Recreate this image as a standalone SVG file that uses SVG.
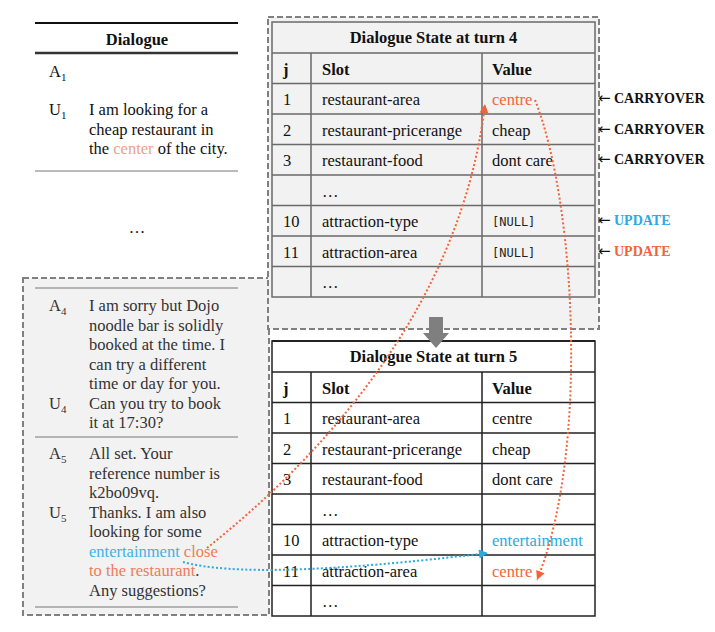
<svg xmlns="http://www.w3.org/2000/svg" width="715" height="632" viewBox="0 0 715 632">
<style>
text{font-family:"Liberation Serif","Times New Roman",serif;font-size:16.5px;fill:#111}
.b{font-weight:bold}
.g{fill:#333}
.sub{font-size:11px}
.mono{font-family:"DejaVu Sans Mono","Liberation Mono",monospace;font-size:12px;fill:#222}
.dash{fill:#f2f2f2;stroke:#808080;stroke-width:2;stroke-dasharray:6 3}
.t4{stroke:#6a6a6a;stroke-width:1.5;fill:none}
.t5{stroke:#222;stroke-width:1.5;fill:none}
.lbl{font-size:14px;font-weight:bold}
.arr{font-family:"DejaVu Sans",sans-serif;font-size:15px;font-weight:normal;fill:#111}
.or{fill:#f0643c}
.bl{fill:#29aae1}
.dot{fill:none;stroke-width:2;stroke-dasharray:2 2.2}
</style>
<defs>
<marker id="mo" viewBox="0 0 10 10" refX="10" refY="5" markerWidth="10" markerHeight="9" markerUnits="userSpaceOnUse" orient="auto"><path d="M0,0 L10,5 L0,10 z" fill="#f0643c"/></marker>
<marker id="mb" viewBox="0 0 10 10" refX="10" refY="5" markerWidth="10" markerHeight="9" markerUnits="userSpaceOnUse" orient="auto"><path d="M0,0 L10,5 L0,10 z" fill="#29aae1"/></marker>
</defs>
<rect width="715" height="632" fill="#fff"/>

<g id="dialogue-top">
<line x1="35" y1="23" x2="238" y2="23" stroke="#111" stroke-width="2"/>
<text x="137" y="45" text-anchor="middle" class="b">Dialogue</text>
<line x1="35" y1="53" x2="238" y2="53" stroke="#333" stroke-width="2.5"/>
<text x="49" y="77">A<tspan class="sub" dy="4">1</tspan></text>
<text x="49" y="115">U<tspan class="sub" dy="4">1</tspan></text>
<text x="89" y="115">I am looking for a</text>
<text x="89" y="134.5">cheap restaurant in</text>
<text x="89" y="154">the <tspan fill="#f0a08c">center</tspan> of the city.</text>
<line x1="35" y1="171" x2="238" y2="171" stroke="#777" stroke-width="1.2"/>
<text x="137" y="233" text-anchor="middle">…</text>
</g>

<g id="dialogue-box">
<rect class="dash" x="23" y="278" width="246" height="337"/>
<line x1="35" y1="288" x2="238" y2="288" stroke="#777" stroke-width="1.2"/>
<text class="g" x="49" y="311">A<tspan class="sub" dy="4">4</tspan></text>
<text class="g" x="89" y="311">I am sorry but Dojo</text>
<text class="g" x="89" y="330.5">noodle bar is solidly</text>
<text class="g" x="89" y="350">booked at the time. I</text>
<text class="g" x="89" y="369.5">can try a different</text>
<text class="g" x="89" y="389">time or day for you.</text>
<text class="g" x="49" y="408.5">U<tspan class="sub" dy="4">4</tspan></text>
<text class="g" x="89" y="408.5">Can you try to book</text>
<text class="g" x="89" y="428">it at 17:30?</text>
<line x1="35" y1="437" x2="238" y2="437" stroke="#777" stroke-width="1.2"/>
<text class="g" x="49" y="459">A<tspan class="sub" dy="4">5</tspan></text>
<text class="g" x="89" y="459">All set. Your</text>
<text class="g" x="89" y="478.5">reference number is</text>
<text class="g" x="89" y="498">k2bo09vq.</text>
<text class="g" x="49" y="517.5">U<tspan class="sub" dy="4">5</tspan></text>
<text class="g" x="89" y="517.5">Thanks. I am also</text>
<text class="g" x="89" y="537">looking for some</text>
<text class="g" x="89" y="556.5"><tspan fill="#3fb4e2">entertainment</tspan> <tspan fill="#f07a5a">close</tspan></text>
<text class="g" x="89" y="576"><tspan fill="#f07a5a">to the restaurant</tspan>.</text>
<text class="g" x="89" y="595.5">Any suggestions?</text>
<line x1="35" y1="607" x2="238" y2="607" stroke="#777" stroke-width="1.2"/>
</g>

<g id="state-turn4">
<rect class="dash" x="268" y="17" width="331" height="312"/>
<rect class="t4" x="272" y="22" width="323" height="275"/>
<path class="t4" d="M272,53H595M272,83.5H595M272,114H595M272,144.5H595M272,175H595M272,205.5H595M272,236H595M272,266.5H595M311,53V297M482,53V297"/>
<text x="433.5" y="43" text-anchor="middle" class="b">Dialogue State at turn 4</text>
<text x="283" y="74.5" class="b">j</text>
<text x="322" y="74.5" class="b">Slot</text>
<text x="492" y="74.5" class="b">Value</text>
<text x="283" y="105">1</text><text x="322" y="105">restaurant-area</text><text x="492" y="105" class="or">centre</text>
<text x="283" y="135.5">2</text><text x="322" y="135.5">restaurant-pricerange</text><text x="492" y="135.5">cheap</text>
<text x="283" y="166">3</text><text x="322" y="166">restaurant-food</text><text x="492" y="166">dont care</text>
<text x="322" y="196.5">…</text>
<text x="283" y="227">10</text><text x="322" y="227">attraction-type</text><text x="492" y="226" class="mono">[NULL]</text>
<text x="283" y="257.5">11</text><text x="322" y="257.5">attraction-area</text><text x="492" y="256.5" class="mono">[NULL]</text>
<text x="322" y="288">…</text>
</g>

<g id="state-turn5">
<rect x="272" y="341" width="323" height="275" fill="#fff"/>
<rect class="t5" x="272" y="341" width="323" height="275"/>
<line x1="272" y1="341" x2="595" y2="341" stroke="#222" stroke-width="2.2"/>
<path class="t5" d="M272,372H595M272,402.5H595M272,433H595M272,463.5H595M272,494H595M272,524.5H595M272,555H595M272,585.5H595M311,372V616M482,372V616"/>
<text x="433.5" y="362" text-anchor="middle" class="b">Dialogue State at turn 5</text>
<text x="283" y="393.5" class="b">j</text>
<text x="322" y="393.5" class="b">Slot</text>
<text x="492" y="393.5" class="b">Value</text>
<text x="283" y="424">1</text><text x="322" y="424">restaurant-area</text><text x="492" y="424">centre</text>
<text x="283" y="454.5">2</text><text x="322" y="454.5">restaurant-pricerange</text><text x="492" y="454.5">cheap</text>
<text x="283" y="485">3</text><text x="322" y="485">restaurant-food</text><text x="492" y="485">dont care</text>
<text x="322" y="515.5">…</text>
<text x="283" y="546">10</text><text x="322" y="546">attraction-type</text><text x="492" y="546" class="bl">entertainment</text>
<text x="283" y="576.5">11</text><text x="322" y="576.5">attraction-area</text><text x="492" y="576.5" class="or">centre</text>
<text x="322" y="607">…</text>
</g>

<g id="labels">
<text y="103" class="lbl"><tspan x="598" class="arr">←</tspan><tspan x="614">CARRYOVER</tspan></text>
<text y="133.5" class="lbl"><tspan x="598" class="arr">←</tspan><tspan x="614">CARRYOVER</tspan></text>
<text y="164" class="lbl"><tspan x="598" class="arr">←</tspan><tspan x="614">CARRYOVER</tspan></text>
<text y="225" class="lbl"><tspan x="598" class="arr">←</tspan><tspan x="614" class="bl">UPDATE</tspan></text>
<text y="256" class="lbl"><tspan x="598" class="arr">←</tspan><tspan x="614" class="or">UPDATE</tspan></text>
</g>

<g id="turn-arrow">
<path d="M429,317H443V333H449L436,348L423,333H429Z" fill="#7f7f7f"/>
</g>

<g id="connectors">
<path class="dot" stroke="#f0643c" d="M207,548 C330,450 462,300 485,104" marker-end="url(#mo)"/>
<path class="dot" stroke="#f0643c" d="M535,100 C575,200 590,450 537,580" marker-end="url(#mo)"/>
<path class="dot" stroke="#29aae1" d="M183,562 C230,575 330,572 488,553" marker-end="url(#mb)"/>
</g>
</svg>
